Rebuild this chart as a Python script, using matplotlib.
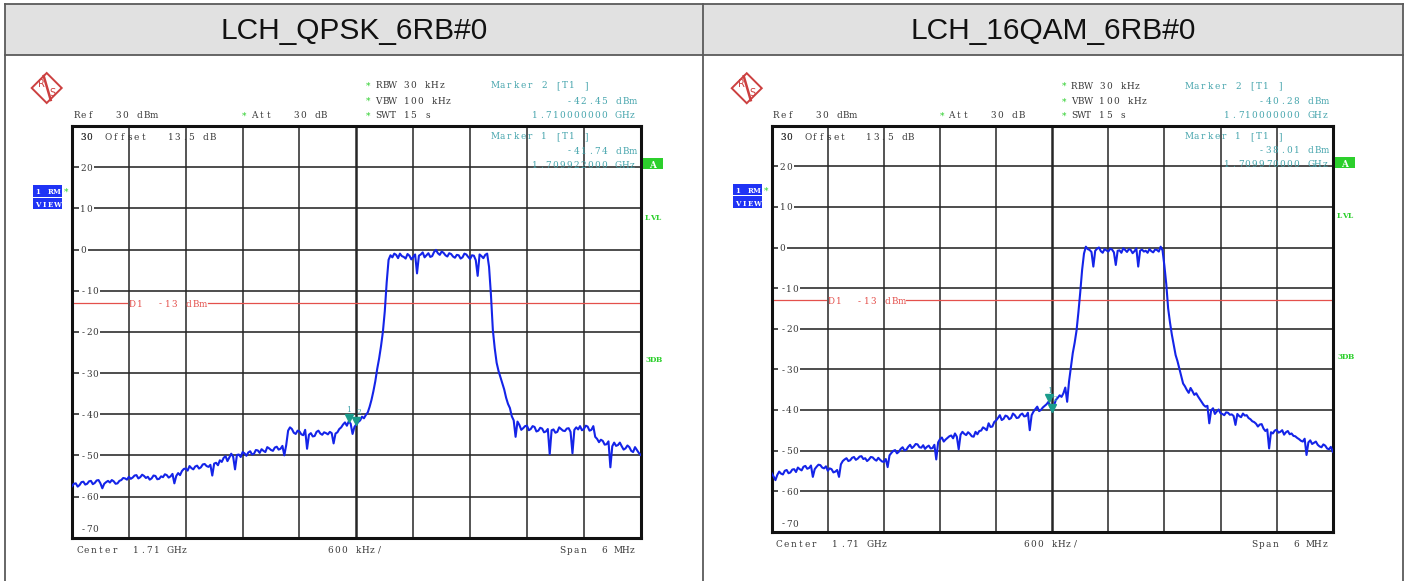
import numpy as np
import matplotlib
matplotlib.use("Agg")
import matplotlib.pyplot as plt
from matplotlib.patches import Rectangle, Polygon
from matplotlib.transforms import offset_copy

# --------- CONFIG ----------
W, H = 1411, 581
CENTER_GHZ = 1.71
SPAN_MHZ = 6.0
REF_LEVEL = 30
DISPLAY_LINE = -13

TITLES = ["LCH_QPSK_6RB#0", "LCH_16QAM_6RB#0"]

# sweep points, MHz offset from the 1.71 GHz center (600 kHz/div)
FREQ_OFFSET = np.linspace(-3.0, 3.0, 301)

QPSK_TRACE = [
    -57.5, -56.9, -56.8, -57.6, -57.2, -56.5, -56.4, -57.1, -56.9, -56.3,
    -56.2, -57.0, -56.7, -56.1, -56.0, -56.8, -58.0, -56.9, -56.5, -56.2,
    -56.6, -56.0, -56.3, -56.9, -56.8, -56.2, -56.0, -55.5, -55.6, -55.9,
    -55.2, -55.7, -55.4, -54.9, -54.8, -55.6, -55.3, -54.7, -55.0, -55.5,
    -55.2, -55.9, -55.6, -54.9, -55.0, -55.8, -55.7, -55.1, -55.3, -54.6,
    -54.8, -55.4, -55.1, -54.5, -56.8, -55.0, -54.3, -54.8, -53.8, -53.3,
    -53.2, -53.7, -52.6, -53.1, -53.4, -52.7, -52.5, -53.2, -52.9, -52.2,
    -52.1, -52.6, -52.8, -52.3, -54.9, -52.0, -51.8, -52.4, -51.2, -51.6,
    -50.6, -50.2, -51.4, -50.5, -49.6, -50.3, -53.4, -49.9, -49.8, -50.4,
    -49.2, -49.5, -50.1, -49.3, -49.0, -49.8, -49.6, -48.7, -48.8, -49.4,
    -48.5, -48.9, -49.2, -48.0, -48.3, -48.7, -48.9, -48.1, -47.9, -48.6,
    -48.4, -47.7, -50.0, -47.5, -44.0, -43.2, -43.6, -44.5, -44.8, -44.0,
    -44.2, -44.9, -45.1, -43.8, -48.4, -45.0, -44.6, -45.4, -45.3, -44.3,
    -44.0, -44.7, -45.0, -44.4, -44.6, -44.9, -44.3, -44.6, -47.1, -44.7,
    -44.4, -43.6, -43.2, -42.5, -42.0, -42.8, -41.74, -42.3, -44.8, -43.1,
    -42.45, -41.9, -41.5, -40.6, -41.0, -40.2, -39.6, -38.2, -36.5, -34.4,
    -32.0, -29.0, -26.5, -23.5, -20.0, -15.0, -8.0, -2.5, -1.4, -1.9,
    -1.0, -1.3, -2.1, -1.0, -1.6, -1.8, -2.2, -1.1, -1.5, -2.4,
    -1.8, -1.2, -5.8, -1.5, -1.2, -0.7, -1.9, -1.4, -0.9, -1.8,
    -1.6, -0.6, -0.1, -0.9, -1.3, -0.5, -0.8, -1.4, -1.7, -0.9,
    -1.1, -1.7, -2.0, -1.3, -1.4, -2.2, -1.9, -1.0, -1.2, -1.8,
    -2.3, -1.4, -1.5, -2.6, -6.4, -1.2, -1.6, -2.1, -1.3, -1.0,
    -4.2, -11.0, -19.5, -24.0, -27.5, -29.5, -31.0, -32.5, -34.0, -36.0,
    -37.5, -38.5, -40.5, -41.5, -45.5, -41.8, -42.6, -43.8, -43.4, -42.9,
    -42.8, -43.9, -43.6, -42.9, -43.1, -44.2, -44.0, -43.3, -43.5, -44.4,
    -44.2, -43.6, -49.7, -43.9, -43.7, -44.5, -44.3, -43.2, -43.6, -44.0,
    -44.1, -43.5, -43.4, -44.3, -49.5, -43.8, -43.2, -43.7, -42.9, -43.9,
    -43.6, -42.8, -43.0, -44.0, -43.8, -42.9, -45.5, -46.0, -46.8, -46.2,
    -46.5, -47.4, -47.3, -46.6, -52.9, -47.8, -46.9, -47.7, -47.5, -46.9,
    -47.8, -48.6, -48.3, -47.6, -48.0, -48.9, -49.2, -48.0, -48.7, -49.4,
    -49.9,
]

QAM16_TRACE = [
    -55.6, -56.4, -57.3, -56.0, -55.2, -55.7, -55.9, -55.0, -54.8, -55.6,
    -55.4, -54.7, -54.6, -55.3, -54.2, -54.6, -54.9, -54.0, -53.8, -54.5,
    -54.3, -53.7, -56.5, -54.6, -54.0, -53.5, -53.6, -54.2, -54.4, -53.9,
    -55.0, -54.4, -54.6, -55.4, -55.2, -54.8, -56.5, -53.4, -52.6, -52.2,
    -51.9, -52.6, -52.4, -51.8, -51.6, -52.3, -52.0, -51.5, -51.4, -52.1,
    -51.9, -52.6, -52.2, -51.6, -51.7, -52.2, -52.5, -51.8, -52.3, -52.7,
    -52.8, -52.1, -54.1, -51.2, -50.6, -50.1, -49.9, -50.7, -50.3, -49.6,
    -49.2, -50.0, -49.8, -49.1, -48.6, -49.4, -49.0, -48.4, -48.5, -49.2,
    -49.3, -48.7, -49.6, -49.1, -48.8, -49.5, -49.4, -48.6, -52.2, -48.0,
    -47.2, -46.8, -47.8, -47.3, -46.9, -46.5, -46.3, -47.0, -45.8, -46.6,
    -49.7, -46.1, -45.4, -45.9, -46.2, -45.5, -45.9, -46.5, -46.6, -45.4,
    -46.0, -45.2, -45.1, -44.3, -44.6, -45.0, -43.3, -44.2, -44.1, -43.0,
    -42.6, -42.0, -41.3, -42.5, -42.2, -41.4, -41.6, -42.3, -42.0, -40.9,
    -41.3, -42.0, -41.9, -41.2, -40.9, -41.6, -41.5, -40.7, -45.0, -41.3,
    -40.4, -39.8, -39.2, -40.3, -40.0, -39.4, -39.0, -38.6, -38.0, -39.0,
    -40.28, -38.9, -37.5, -37.0, -36.4, -36.8, -35.9, -34.5, -38.0, -33.0,
    -29.5, -26.0, -23.5, -20.5, -16.0, -11.0, -5.5, -1.5, 0.2, -0.4,
    -0.6, -1.1, -4.7, -0.8, -0.3, 0.0, -0.9, -1.3, -0.4, -0.7,
    -1.0, -0.3, -0.5, -1.2, -4.3, -0.8, -0.7, -1.3, -0.2, -0.6,
    -1.1, -0.4, -0.6, -1.4, -0.9, -0.2, -4.7, -0.8, -0.5, -1.0,
    -0.8, -1.3, -0.4, -0.9, -1.2, -0.5, -0.6, -1.0, 0.2, -0.7,
    -4.5, -9.0, -15.0, -18.5, -21.5, -24.0, -26.5, -28.0, -29.8, -31.5,
    -33.5, -34.2, -35.1, -35.8, -34.6, -35.4, -36.3, -35.9, -36.7, -37.4,
    -38.1, -38.8, -39.2, -39.0, -43.3, -40.1, -39.6, -41.0, -40.4, -39.9,
    -40.8, -41.0, -41.3, -40.6, -40.7, -41.2, -41.1, -41.5, -43.7, -41.0,
    -41.5, -41.8, -40.9, -41.4, -41.3, -42.0, -42.3, -42.8, -43.0, -43.4,
    -44.1, -43.6, -43.5, -44.6, -45.2, -44.8, -49.5, -45.5, -45.8, -45.1,
    -44.9, -45.6, -45.4, -45.0, -46.1, -45.5, -45.2, -46.0, -45.8, -46.4,
    -46.5, -46.9, -47.2, -47.6, -47.8, -47.1, -51.1, -48.0, -47.5, -48.4,
    -48.1, -47.8, -48.6, -49.0, -49.2, -48.5, -48.8, -49.5, -49.7, -49.1,
    -50.3,
]

# markers: (MHz offset, dBm)
MARKER1 = [(-0.078, -41.74), (-0.030, -38.01)]
MARKER2 = [(0.0, -42.45), (0.0, -40.28)]

Y_TICKS = [30, 20, 10, 0, -10, -20, -30, -40, -50, -60, -70]

# screen boxes of the two analyzer grids (pixels: left, top, right, bottom)
GRIDS = [(72, 126, 640.7, 537.7), (771.7, 125.7, 1332.7, 531.7)]
# ---------------------------

TXT = "#383838"
TEAL = "#46a5ad"
GREEN = "#2ccf2c"
TRACE = "#1424e8"
RED = "#e4504c"
BLUE = "#1f33f5"
SERIF = "DejaVu Serif"
PITCH = 7.0
FS = 6.4

fig = plt.figure(figsize=(W / 100, H / 100), dpi=100)
ov = fig.add_axes([0, 0, 1, 1])
ov.set_xlim(0, W)
ov.set_ylim(H, 0)
ov.axis("off")
ov.set_zorder(10)
ov.patch.set_alpha(0)


def mono(x, y, s, color=TXT, ha="left", size=FS, pitch=PITCH, weight="normal"):
    # analyzer style text: one glyph per fixed cell
    n = len(s)
    if ha == "right":
        x -= n * pitch
    elif ha == "center":
        x -= n * pitch / 2
    for i, ch in enumerate(s):
        if ch != " ":
            ov.text(x + (i + 0.5) * pitch, y, ch, ha="center", va="center_baseline",
                    fontsize=size, color=color, family=SERIF, weight=weight)


def draw_table():
    ov.add_patch(Rectangle((5, 4), 1398, 51, facecolor="#e1e1e1", edgecolor="none"))
    kw = dict(color="#5a5a5a", lw=1.3)
    ov.plot([5, 1403], [4, 4], **kw)
    ov.plot([5, 1403], [55, 55], **kw)
    ov.plot([5, 5], [4, H], **kw)
    ov.plot([1403, 1403], [4, H], **kw)
    ov.plot([703, 703], [4, H], **kw)
    for cx, title in zip([354, 1053], TITLES):
        ov.text(cx, 31, title, ha="center", va="center", fontsize=21.5,
                family="Liberation Sans", color="#111111")


def rs_logo(cx, cy, r=15):
    ov.add_patch(Polygon([(cx, cy - r), (cx + r, cy), (cx, cy + r), (cx - r, cy)],
                         closed=True, facecolor="white", edgecolor="#cc4040", lw=1.4))
    ov.plot([cx - 3, cx + 4], [cy - r + 3, cy + r - 3], color="#cc4040", lw=1.8)
    ov.text(cx - 5.5, cy - 4, "R", ha="center", va="center", fontsize=7,
            color="#cc4040", family="DejaVu Sans")
    ov.text(cx + 6, cy + 4.5, "S", ha="center", va="center", fontsize=7,
            color="#cc4040", family="DejaVu Sans")


def to_px(ax, x, y):
    dx, dy = ax.transData.transform((x, y))
    return dx, H - dy


def draw_panel(k, trace):
    l, t, r, b = GRIDS[k]
    s = (r - l) / (GRIDS[0][2] - GRIDS[0][0])

    def P(dx, dy):
        return l + s * dx, t + s * dy

    ax = fig.add_axes([l / W, (H - b) / H, (r - l) / W, (b - t) / H])
    ax.set_xlim(-SPAN_MHZ / 2, SPAN_MHZ / 2)
    ax.set_ylim(-70, REF_LEVEL)
    ax.set_xticks([])
    ax.set_yticks([])
    for sp in ax.spines.values():
        sp.set_linewidth(2.2)
        sp.set_color("#111111")

    # 10 x 10 grid, center line heavier
    for v in Y_TICKS[1:-1]:
        ax.axhline(v, color="#262626", lw=1.15, zorder=1)
    for i, f in enumerate(np.linspace(-3, 3, 11)[1:-1]):
        ax.axvline(f, color="#262626", lw=1.8 if i == 4 else 1.1, zorder=1)

    # display line D1, broken where its label sits
    lab0 = -3 + 57 / 568.7 * SPAN_MHZ
    lab1 = -3 + 136 / 568.7 * SPAN_MHZ
    ax.plot([-3, lab0 - 0.02], [DISPLAY_LINE] * 2, color=RED, lw=0.9, zorder=2)
    ax.plot([lab1, 3], [DISPLAY_LINE] * 2, color=RED, lw=0.9, zorder=2)

    ax.plot(FREQ_OFFSET, trace, color=TRACE, lw=1.5, zorder=3)

    # marker triangles, tip on the marker level
    mk_tr = offset_copy(ax.transData, fig=fig, x=0, y=3.5, units="dots")
    for f, v in (MARKER1[k], MARKER2[k]):
        ax.plot(f, v, marker="v", ms=5.5, color="#1a9c8c", transform=mk_tr,
                zorder=4, clip_on=False)
    fx, fy = to_px(ax, *MARKER1[k])
    mono(fx, fy - 12, "1", color=TEAL, ha="center", size=5.6)
    fx, fy = to_px(ax, *MARKER2[k])
    mono(fx + 3, fy - 13, "2", color=TEAL, ha="center", size=5.6)

    dx, dy = to_px(ax, lab0, DISPLAY_LINE)
    mono(dx, dy, "D1  -13 dBm", color=RED)

    # level labels inside the grid
    for v in Y_TICKS:
        x0, y0 = to_px(ax, -3, v)
        lab = str(v)
        if v == Y_TICKS[0]:
            y0 += 10.7 * s
        elif v == Y_TICKS[-1]:
            y0 -= 8.7 * s
        else:
            ov.add_patch(Rectangle((x0 + 6.5, y0 - 4), len(lab) * 6.2 + 3, 8,
                                   facecolor="white", edgecolor="none"))
        mono(x0 + 8 * s, y0, lab, pitch=6.2)

    # header block
    rs_logo(*P(-25.3, -38))
    mono(*P(1, -11), "Ref   30 dBm")
    mono(*P(169, -11), "*", color=GREEN)
    mono(*P(178.7, -11), "Att   30 dB")
    for dy, lab in ((-41, "RBW 30 kHz"), (-25.3, "VBW 100 kHz"), (-11, "SWT 15 s")):
        mono(*P(293, dy), "*", color=GREEN)
        mono(*P(303, dy), lab)

    f1, v1 = MARKER1[k]
    f2, v2 = MARKER2[k]
    mono(*P(419.7, -41), "Marker 2 [T1 ]", color=TEAL)
    mono(*P(564, -25.3), f"{v2:.2f} dBm", color=TEAL, ha="right")
    mono(*P(564, -11), f"{CENTER_GHZ + f2 / 1000:.9f} GHz", color=TEAL, ha="right")
    mono(*P(419.7, 9.7), "Marker 1 [T1 ]", color=TEAL)
    mono(*P(564, 24), f"{v1:.2f} dBm", color=TEAL, ha="right")
    mono(*P(564, 38), f"{CENTER_GHZ + f1 / 1000:.9f} GHz", color=TEAL, ha="right")

    mono(*P(8, 10.7), "30", pitch=6.2)
    mono(*P(33, 10.7), "Offset")
    mono(*P(95, 10.7), "13.5 dB")

    # side indicators
    for (y0, y1), lab in (((59, 70.7), "1 RM"), ((71.7, 83), "VIEW")):
        x0, yy0 = P(-39, y0)
        x1, yy1 = P(-10.3, y1)
        ov.add_patch(Rectangle((x0, yy0), x1 - x0, yy1 - yy0, facecolor=BLUE,
                               edgecolor="none"))
        mono((x0 + x1) / 2, (yy0 + yy1) / 2 + 0.5, lab, color="white", ha="center",
             pitch=6.3, weight="bold", size=5.0)
    mono(*P(-6, 65), "*", color=GREEN, ha="center")

    x0, y0 = P(571, 31.7)
    x1, y1 = P(591, 43.3)
    ov.add_patch(Rectangle((x0, y0), x1 - x0, y1 - y0, facecolor=GREEN, edgecolor="none"))
    mono((x0 + x1) / 2, (y0 + y1) / 2 + 0.5, "A", color="white", ha="center", weight="bold")
    mono(*P(573, 90.7), "LVL", color=GREEN, pitch=5.4, weight="bold", size=5.4)
    mono(*P(573, 233), "3DB", color=GREEN, pitch=5.4, weight="bold", size=5.4)

    # sweep footer
    mono(*P(4, 423.3), "Center  1.71 GHz")
    mono(*P(254.7, 423.3), "600 kHz/")
    mono(*P(564, 423.3), "Span  6 MHz", ha="right")


draw_table()
draw_panel(0, QPSK_TRACE)
draw_panel(1, QAM16_TRACE)

fig.savefig("out.png", dpi=100, facecolor="white")
